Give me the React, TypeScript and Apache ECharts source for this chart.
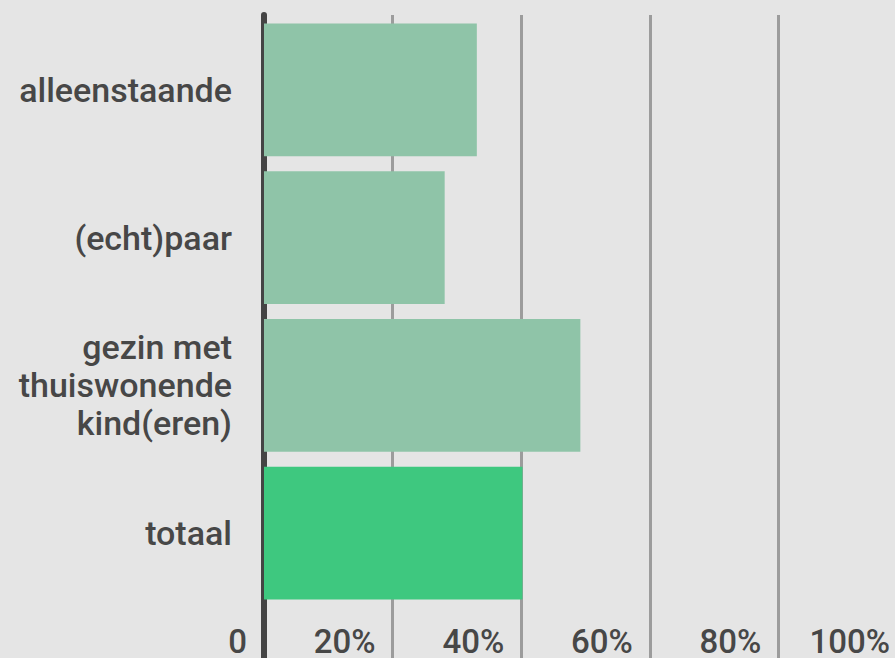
import React, { useEffect, useRef } from "react";
import * as echarts from "echarts";

const categories = ["alleenstaande", "(echt)paar", "gezin met\nthuiswonende\nkind(eren)", "totaal"];
const values = [33.1, 28.1, 49.2, 40.2];
const barColors = ["#8fc4a8", "#8fc4a8", "#8fc4a8", "#3ec87f"];
const xTicks = [0, 20, 40, 60, 80, 100];

export default function App() {
  const ref = useRef<HTMLDivElement>(null);
  useEffect(() => {
    if (!ref.current) return;
    const chart = echarts.init(ref.current, null, { renderer: "svg" });
    const textColor = "#474747";
    const left = 264;
    const width = 643;
    chart.setOption({
      animation: false,
      backgroundColor: "#e5e5e5",
      textStyle: { fontFamily: "Roboto" },
      grid: [
        { left, width, top: 16, height: 591, containLabel: false, outerBoundsMode: "none" },
        { left, width, top: 15, height: 660, containLabel: false, outerBoundsMode: "none" },
      ],
      xAxis: [
        {
          type: "value",
          gridIndex: 0,
          min: xTicks[0],
          max: xTicks[xTicks.length - 1],
          interval: 20,
          axisLine: { show: false },
          axisTick: { show: false },
          splitLine: { show: false },
          axisLabel: {
            show: true,
            fontFamily: "Roboto",
            fontSize: 33,
            fontWeight: 500,
            color: textColor,
            align: "right",
            padding: [0, 17, 0, 0],
            margin: 18,
            formatter: (v: number) => (v === 0 ? "0" : v + "%"),
          },
        },
        {
          type: "value",
          gridIndex: 1,
          min: xTicks[0],
          max: xTicks[xTicks.length - 1],
          interval: 20,
          axisLine: { show: false },
          axisTick: { show: false },
          axisLabel: { show: false },
          splitLine: { show: true, showMinLine: false, lineStyle: { color: "#9c9c9c", width: 3 } },
        },
      ],
      yAxis: [
        {
          type: "category",
          gridIndex: 0,
          data: categories,
          inverse: true,
          offset: 4,
          axisLine: { show: false },
          axisTick: { show: false },
          splitLine: { show: false },
          axisLabel: {
            fontFamily: "Roboto",
            fontSize: 34,
            fontWeight: 500,
            lineHeight: 38,
            color: textColor,
            margin: 28,
            align: "right",
          },
        },
        {
          type: "category",
          gridIndex: 1,
          data: categories,
          offset: 6,
          axisLine: { show: true, lineStyle: { color: "#444444", width: 6 } },
          axisTick: { show: false },
          axisLabel: { show: false },
          splitLine: { show: false },
        },
      ],
      series: [
        {
          type: "bar",
          xAxisIndex: 0,
          yAxisIndex: 0,
          barCategoryGap: "10%",
          data: values.map((v, i) => ({ value: v, itemStyle: { color: barColors[i] } })),
        },
      ],
    });
    return () => chart.dispose();
  }, []);
  return (
    <div
      ref={ref}
      style={{ position: "fixed", left: 0, top: 0, width: 895, height: 658 }}
    />
  );
}
